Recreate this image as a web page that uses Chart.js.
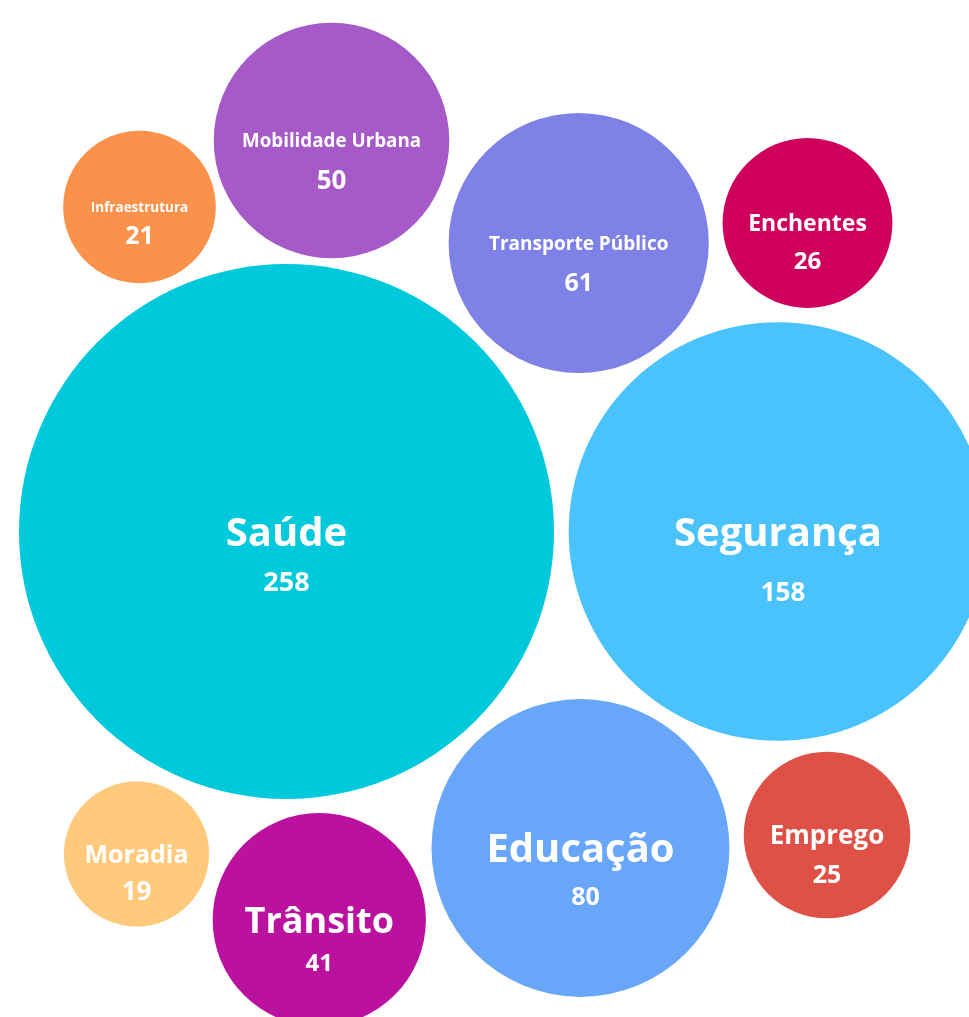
<!DOCTYPE html>
<html>
<head>
<meta charset="utf-8">
<script src="https://cdn.jsdelivr.net/npm/chart.js@4/dist/chart.umd.min.js"></script>
<style>
  html, body { margin: 0; padding: 0; background: #ffffff; overflow: hidden; }
  #wrap { position: relative; width: 969px; height: 1017px; }
</style>
</head>
<body>
<div id="wrap"><canvas id="c"></canvas></div>
<script>
// ---- Data ----
const categories = ["Saúde", "Segurança", "Educação", "Transporte Público", "Mobilidade Urbana",
                    "Trânsito", "Enchentes", "Emprego", "Infraestrutura", "Moradia"];
const values     = [258, 158, 80, 61, 50, 41, 26, 25, 21, 19];
// bubble centre positions (layout coordinates on a 0–969 / 0–1017 grid)
const bubbleX    = [286.5, 778, 580.5, 578.7, 331.5, 319.3, 807.5, 827, 139.5, 136.5];
const bubbleY    = [531.5, 531.5, 848, 243, 140.5, 919.7, 223, 835, 207, 854];

// ---- Styles ----
const colors = ["#00C9DB", "#4AC3FC", "#67A6F8", "#7E81E6", "#A55AC8",
                "#BA119E", "#CF005C", "#DF5147", "#FA924B", "#FFCA7B"];
const nameFontSize  = [40, 40, 40, 19, 18.8, 36, 23, 26, 13.5, 25];
const valueFontSize = [27, 26, 25, 25, 26, 24, 24, 25, 25, 26];
const valueOffset   = [50, 60, 48, 39, 39, 42.5, 37.5, 39, 28, 37];
const valueDx       = [0, 5, 5, 0, 0, 0, 0, 0, 0, 0];
const RADIUS_K = 16.654; // pixels per sqrt(unit)

const labelPlugin = {
  id: 'bubbleLabels',
  afterDatasetsDraw(chart) {
    const ctx = chart.ctx;
    const meta = chart.getDatasetMeta(0);
    ctx.save();
    ctx.fillStyle = '#ffffff';
    ctx.textAlign = 'center';
    ctx.textBaseline = 'alphabetic';
    meta.data.forEach((el, i) => {
      const nf = nameFontSize[i], vf = valueFontSize[i];
      ctx.font = `700 ${nf}px "Open Sans"`;
      ctx.fillText(categories[i], el.x, el.y + nf * 0.357);
      ctx.font = `700 ${vf}px "Open Sans"`;
      ctx.fillText(String(values[i]), el.x + valueDx[i], el.y + valueOffset[i] + vf * 0.357);
    });
    ctx.restore();
  }
};

function build() {
  const canvas = document.getElementById('c');
  new Chart(canvas, {
    type: 'bubble',
    data: {
      datasets: [{
        data: values.map((v, i) => ({ x: bubbleX[i], y: bubbleY[i], r: RADIUS_K * Math.sqrt(v) })),
        backgroundColor: colors,
        hoverBackgroundColor: colors,
        borderWidth: 0,
        hoverBorderWidth: 0,
        clip: false
      }]
    },
    options: {
      responsive: true,
      maintainAspectRatio: false,
      animation: false,
      devicePixelRatio: 1,
      layout: { padding: 0, autoPadding: false },
      events: [],
      plugins: { legend: { display: false }, tooltip: { enabled: false } },
      scales: {
        x: { type: 'linear', min: 0, max: 969, display: false },
        y: { type: 'linear', min: 0, max: 1017, reverse: true, display: false }
      }
    },
    plugins: [labelPlugin]
  });
}

if (document.fonts && document.fonts.load) {
  Promise.all([document.fonts.load('700 20px "Open Sans"')]).then(build, build);
} else {
  build();
}
</script>
</body>
</html>
